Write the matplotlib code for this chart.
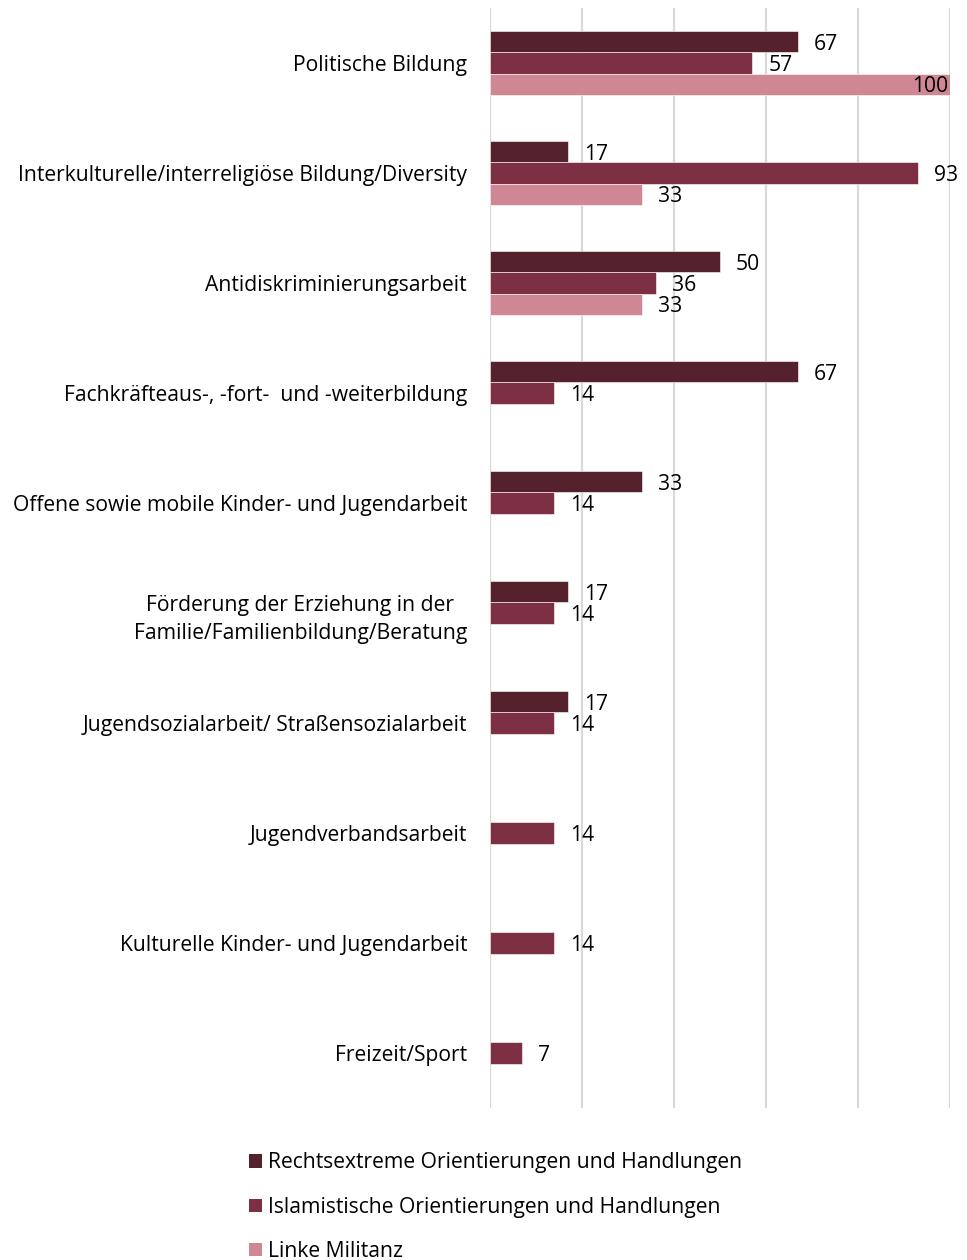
import matplotlib
matplotlib.use("Agg")
import matplotlib.pyplot as plt
from matplotlib.patches import Patch
import numpy as np

plt.rcParams['font.family'] = ['Open Sans', 'DejaVu Sans']

categories = [
    "Politische Bildung",
    "Interkulturelle/interreligiöse Bildung/Diversity",
    "Antidiskriminierungsarbeit",
    "Fachkräfteaus-, -fort-  und -weiterbildung",
    "Offene sowie mobile Kinder- und Jugendarbeit",
    "Förderung der Erziehung in der\nFamilie/Familienbildung/Beratung",
    "Jugendsozialarbeit/ Straßensozialarbeit",
    "Jugendverbandsarbeit",
    "Kulturelle Kinder- und Jugendarbeit",
    "Freizeit/Sport",
]
series_names = [
    "Rechtsextreme Orientierungen und Handlungen",
    "Islamistische Orientierungen und Handlungen",
    "Linke Militanz",
]
rechts = [67, 17, 50, 67, 33, 17, 17, 0, 0, 0]
islam = [57, 93, 36, 14, 14, 14, 14, 14, 14, 7]
links = [100, 33, 33, 0, 0, 0, 0, 0, 0, 0]
colors = ["#55212c", "#7d3044", "#d08794"]

FS = 15.2

fig = plt.figure(figsize=(9.67, 12.6), dpi=100)
ax = fig.add_axes([490 / 967, 1 - 1108 / 1260, 460 / 967, 1100 / 1260])

n = len(categories)
pos = np.arange(n)
bar_h = 0.191
series = [rechts, islam, links]
for k, (vals, col) in enumerate(zip(series, colors)):
    y = pos + (k - 1) * bar_h
    keep = [i for i, v in enumerate(vals) if v > 0]
    ax.barh(y[keep], [vals[i] for i in keep], height=bar_h, color=col,
            edgecolor="white", linewidth=0.4, zorder=3)
    for i in keep:
        v = vals[i]
        if v >= 96:
            ax.annotate(str(v), xy=(v, y[i]), xytext=(-1, -2), textcoords="offset points",
                        ha="right", va="center", fontsize=FS, color="black", zorder=4)
        else:
            ax.annotate(str(v), xy=(v, y[i]), xytext=(11.5, -2), textcoords="offset points",
                        ha="left", va="center", fontsize=FS, color="black", zorder=4)

ax.set_xlim(0, 100)
ax.set_ylim(n - 0.5, -0.5)
ax.set_xticks(np.arange(0, 101, 20))
ax.xaxis.grid(True, color="#d9d9d9", linewidth=1.6, zorder=0)
ax.tick_params(axis="x", length=0, labelbottom=False)
ax.tick_params(axis="y", length=0, pad=16.5)
ax.set_yticks(pos)
ax.set_yticklabels(categories, fontsize=FS)
for lbl in ax.get_yticklabels():
    lbl.set_multialignment("center")
    lbl.set_linespacing(1.45)
for s in ax.spines.values():
    s.set_visible(False)

handles = [Patch(facecolor=c, edgecolor="none") for c in colors]
fig.legend(handles, series_names, loc="upper left", bbox_to_anchor=(241 / 967, 1 - 1144 / 1260),
           frameon=False, fontsize=FS, handlelength=0.6, handleheight=0.6,
           handletextpad=0.3, labelspacing=1.1, borderaxespad=0)

fig.savefig("out.png", dpi=100)
